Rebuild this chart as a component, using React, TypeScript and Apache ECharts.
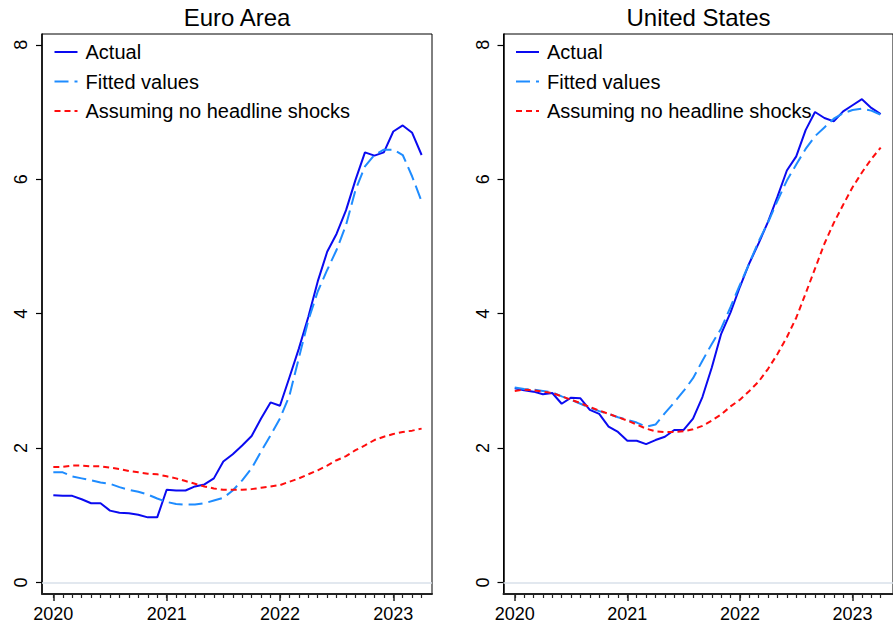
import React, { useEffect, useRef } from "react";
import * as echarts from "echarts";

const MONTHS = [
  "2020-01","2020-02","2020-03","2020-04","2020-05","2020-06","2020-07","2020-08","2020-09","2020-10","2020-11","2020-12",
  "2021-01","2021-02","2021-03","2021-04","2021-05","2021-06","2021-07","2021-08","2021-09","2021-10","2021-11","2021-12",
  "2022-01","2022-02","2022-03","2022-04","2022-05","2022-06","2022-07","2022-08","2022-09","2022-10","2022-11","2022-12",
  "2023-01","2023-02","2023-03","2023-04",
];
const YEAR_TICKS = [0, 12, 24, 36];
const YEAR_LABELS = ["2020", "2021", "2022", "2023"];
const Y_TICKS = [0, 2, 4, 6, 8];
const SERIES_NAMES = ["Actual", "Fitted values", "Assuming no headline shocks"];
const PANEL_TITLES = ["Euro Area", "United States"];

const EA_ACTUAL = [
  1.30, 1.29, 1.29, 1.24, 1.18, 1.18, 1.07, 1.04, 1.03, 1.01, 0.97, 0.97,
  1.38, 1.37, 1.37, 1.43, 1.46, 1.55, 1.80, 1.91, 2.04, 2.18, 2.44, 2.68,
  2.63, 3.05, 3.48, 3.95, 4.48, 4.92, 5.19, 5.54, 5.99, 6.40, 6.35, 6.40,
  6.71, 6.80, 6.69, 6.36,
];
const EA_FITTED = [
  1.64, 1.64, 1.58, 1.55, 1.52, 1.49, 1.47, 1.42, 1.38, 1.35, 1.31, 1.25,
  1.20, 1.17, 1.16, 1.16, 1.18, 1.22, 1.26, 1.37, 1.52, 1.70, 1.95, 2.19,
  2.44, 2.78, 3.34, 3.90, 4.33, 4.65, 4.95, 5.32, 5.84, 6.19, 6.36, 6.44,
  6.44, 6.36, 6.04, 5.67,
];
const EA_NO_SHOCKS = [
  1.72, 1.72, 1.74, 1.74, 1.73, 1.73, 1.71, 1.69, 1.66, 1.64, 1.62, 1.61,
  1.58, 1.55, 1.51, 1.47, 1.43, 1.40, 1.38, 1.38, 1.38, 1.39, 1.41, 1.43,
  1.45, 1.50, 1.55, 1.61, 1.67, 1.74, 1.82, 1.88, 1.97, 2.04, 2.12, 2.17,
  2.21, 2.24, 2.26, 2.29,
];

const US_ACTUAL = [
  2.89, 2.86, 2.84, 2.80, 2.82, 2.66, 2.75, 2.74, 2.57, 2.51, 2.32, 2.24,
  2.11, 2.11, 2.06, 2.12, 2.17, 2.27, 2.27, 2.44, 2.76, 3.20, 3.70, 4.02,
  4.40, 4.75, 5.05, 5.37, 5.74, 6.13, 6.34, 6.73, 7.00, 6.91, 6.86, 7.01,
  7.10, 7.19, 7.06, 6.97,
];
const US_FITTED = [
  2.90, 2.88, 2.87, 2.85, 2.83, 2.77, 2.72, 2.66, 2.60, 2.55, 2.51, 2.46,
  2.42, 2.38, 2.32, 2.35, 2.52, 2.68, 2.85, 3.04, 3.30, 3.55, 3.78, 4.10,
  4.43, 4.75, 5.08, 5.36, 5.68, 5.98, 6.22, 6.45, 6.64, 6.77, 6.90, 6.98,
  7.03, 7.05, 7.02, 6.96,
];
const US_NO_SHOCKS = [
  2.85, 2.87, 2.86, 2.84, 2.82, 2.77, 2.72, 2.67, 2.61, 2.56, 2.51, 2.46,
  2.41, 2.35, 2.29, 2.25, 2.24, 2.24, 2.25, 2.28, 2.33, 2.41, 2.50, 2.62,
  2.72, 2.85, 2.99, 3.18, 3.40, 3.65, 3.94, 4.30, 4.67, 5.04, 5.35, 5.62,
  5.88, 6.10, 6.30, 6.47,
];

const PANEL_DATA = [
  [EA_ACTUAL, EA_FITTED, EA_NO_SHOCKS],
  [US_ACTUAL, US_FITTED, US_NO_SHOCKS],
];

const FONT = "'Liberation Sans', Arial, Helvetica, sans-serif";
const PANEL_LEFTS = [42, 503.5];
const PANEL_WIDTHS = [390, 392];
const GRID_TOP = 34;
const GRID_H = 560;
const X_MIN = -1.2;
const PX_PER_MONTH = 390 / 41.3;
const Y_MIN = -0.17;
const Y_MAX = 8.16;

const LINE_STYLES = [
  { color: "#0a0af0", width: 2, type: "solid" },
  { color: "#1e8cff", width: 2, type: [14, 6] },
  { color: "#ff0d0d", width: 2, type: [6, 4] },
];

export default function App() {
  const ref = useRef<HTMLDivElement | null>(null);

  useEffect(() => {
    document.body.style.margin = "0";
    if (!ref.current) return;
    const chart = echarts.init(ref.current, null, { renderer: "svg" });
    const monthIdx = MONTHS.map((_, i) => i);

    const grid: any[] = [];
    const xAxis: any[] = [];
    const yAxis: any[] = [];
    const series: any[] = [];
    const legend: any[] = [];
    const graphic: any[] = [];

    PANEL_LEFTS.forEach((left, p) => {
      const w = PANEL_WIDTHS[p];
      const xMax = X_MIN + w / PX_PER_MONTH;
      grid.push({
        left, top: GRID_TOP, width: w, height: GRID_H,
        show: true, borderColor: "#000", borderWidth: 1, backgroundColor: "transparent",
      });
      grid.push({ left, top: GRID_TOP, width: w, height: GRID_H, show: false });

      xAxis.push({
        type: "value", gridIndex: 2 * p, min: X_MIN, max: xMax,
        axisLine: { show: true, onZero: false, lineStyle: { color: "#222", width: 2 } },
        axisTick: { show: true, customValues: YEAR_TICKS, length: 7, lineStyle: { color: "#222", width: 1.5 } },
        axisLabel: {
          show: true, customValues: YEAR_TICKS, margin: 11, fontSize: 18, color: "#000", fontFamily: FONT,
          formatter: (v: number) => YEAR_LABELS[YEAR_TICKS.indexOf(Math.round(v))] ?? "",
        },
        splitLine: { show: false },
      });
      xAxis.push({
        type: "value", gridIndex: 2 * p + 1, min: X_MIN, max: xMax,
        axisLine: { show: false, onZero: false },
        axisTick: { show: true, customValues: monthIdx, length: 4, lineStyle: { color: "#222", width: 1.2 } },
        axisLabel: { show: false },
        splitLine: { show: false },
      });
      yAxis.push({
        type: "value", gridIndex: 2 * p, min: Y_MIN, max: Y_MAX,
        axisLine: { show: true, onZero: false, lineStyle: { color: "#000", width: 1.5 } },
        axisTick: { show: true, customValues: Y_TICKS, length: 6, lineStyle: { color: "#000", width: 1.2 } },
        axisLabel: {
          show: true, customValues: Y_TICKS, rotate: 90, margin: 12, fontSize: 18, color: "#000", fontFamily: FONT,
        },
        splitLine: { show: false },
      });
      yAxis.push({
        type: "value", gridIndex: 2 * p + 1, min: Y_MIN, max: Y_MAX, show: false,
      });

      PANEL_DATA[p].forEach((vals, s) => {
        const ser: any = {
          type: "line",
          name: SERIES_NAMES[s],
          xAxisIndex: 2 * p,
          yAxisIndex: 2 * p,
          data: vals.map((v, i) => [monthIdx[i], v]),
          symbol: "none",
          lineStyle: LINE_STYLES[s],
          itemStyle: { color: LINE_STYLES[s].color },
          z: 3 + s,
        };
        if (s === 0) {
          ser.markLine = {
            silent: true, symbol: ["none", "none"], label: { show: false },
            lineStyle: { color: "#d8e0ea", width: 1.5, type: "solid" },
            data: [{ yAxis: 0 }],
            z: 1,
          };
        }
        series.push(ser);
      });

      legend.push({
        left: left + 6.5, top: 37, orient: "vertical",
        itemWidth: 23, itemHeight: 14, itemGap: 9.5,
        selectedMode: false,
        data: SERIES_NAMES,
        itemStyle: { opacity: 0 },
        textStyle: { fontSize: 20, color: "#000", fontFamily: FONT, lineHeight: 20, padding: [0, 0, 0, 3] },
      });

      graphic.push({
        type: "text", x: left + 390 / 2, y: 17.5,
        style: {
          text: PANEL_TITLES[p], align: "center", verticalAlign: "middle",
          textAlign: "center", textVerticalAlign: "middle",
          fontSize: 24, fill: "#000", fontFamily: FONT,
        },
      });
    });

    chart.setOption({
      animation: false,
      backgroundColor: "#fff",
      grid, xAxis, yAxis, series, legend, graphic,
    });
    return () => chart.dispose();
  }, []);

  return (
    <div
      ref={ref}
      style={{ position: "absolute", left: 0, top: 0, width: 893, height: 629 }}
    />
  );
}
